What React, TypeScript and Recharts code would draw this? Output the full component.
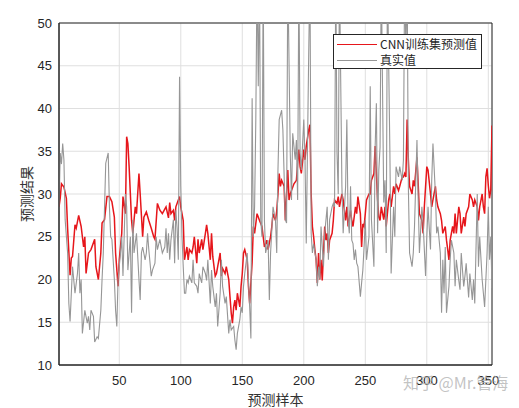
import React from 'react';
import { LineChart, Line, XAxis, YAxis, CartesianGrid, ReferenceArea } from 'recharts';

const predX = [1,2,3,5,7,8,10,11,12,14,15,17,19,21,22,23,25,27,30,31,33,35,36,38,40,42,44,46,47,49,50,52,53,55,56,57,58,60,61,63,64,66,67,69,70,72,74,76,78,79,81,83,85,88,90,91,92,94,95,96,98,99,100,102,103,105,106,107,109,110,111,113,114,115,117,118,120,121,122,124,125,126,128,129,130,132,133,134,136,137,139,140,141,142,143,144,145,146,148,149,150,151,152,154,155,156,158,159,160,162,163,164,166,167,168,170,171,173,174,175,177,178,179,180,181,182,184,185,187,188,189,190,192,194,195,196,197,198,200,201,202,204,205,206,207,208,209,210,211,212,213,214,215,217,218,219,220,221,223,224,225,227,228,229,231,232,234,235,236,238,239,240,242,243,244,246,247,248,249,250,251,253,254,255,257,258,259,260,261,262,263,265,266,267,269,270,271,273,274,275,277,278,280,281,282,283,284,285,286,288,289,290,292,293,294,296,297,298,300,301,303,304,305,307,308,309,311,312,313,315,316,317,318,319,321,322,323,324,326,327,328,330,331,332,334,335,337,338,339,341,342,343,345,346,347,348,349,350,351,352,353];
const predY = [28.5,29.5,31.2,30.8,29.5,26,20.5,22.5,22.7,26.4,26,27.5,26.2,23.8,25,20.7,23.1,23.5,24.7,21.5,20,23.1,26.6,27,29.7,29.7,29.1,27.3,23.1,19.2,22.3,25.4,29.7,27.7,36.7,35.9,33.2,26.9,25.4,28.5,27.7,32.4,30,25,27.3,27.9,26.9,26,25,24.7,28.9,28.1,27.7,28.5,27.2,29,27.7,28.1,26.9,28.5,29.3,29.7,28.5,26.9,22.3,23.8,22.3,23.5,23.1,23.8,25,21.9,24.7,23.1,24.7,23.5,25.4,26.4,25.4,22.3,25.4,22.7,20.4,20.7,21.5,23.1,20.4,21.3,20.7,21.5,20,18,16.1,14.9,16.8,17.6,16.4,18.4,16.8,19.2,20.7,23.1,23.5,22.3,19.2,17.2,22,26.2,25.4,27.7,27.3,26.9,26.2,25,23.8,24.6,23.5,25,26.2,27.7,26.9,28,30,32.4,30.9,31.6,30.9,26.9,32.8,29.3,30,30.4,31.2,31.6,33.6,35.2,33.2,32.4,35.2,34,35.6,37.5,38.1,30,26.2,25,23.5,22.3,19.6,23.1,20,22.3,19.9,26.2,24.6,25.4,23.1,24.6,25.4,26.9,29.3,28.9,29.7,28.5,30,29.3,26.9,28.5,26.2,28.1,26.9,26.2,28.5,27.7,29.7,27.7,23.8,26.5,26.2,27.7,29.3,30,30,31.6,32.4,35.6,32.4,29.3,27.3,26.9,28.5,27,28.5,26.2,29.3,30,28.5,30.9,30,31.2,30.4,30.9,32,32,32.4,32,38.7,34,30.9,30,31.6,30.9,34.3,31.2,27.7,26.9,25.4,28.5,33.2,32.8,30,28.5,29.3,30.9,29.3,28.5,27.7,26.9,25.4,26.2,24.6,23.5,22.3,24.6,26.2,25.4,27.7,25.4,28.5,27.7,25.4,27.3,26.2,27.7,28.5,30,29.3,28.5,29.3,28.5,26.9,28.5,30,28.5,27.7,32,33,31,29.5,30.5,38];

const trueX = [1,2,3,4,5,6,8,9,10,12,14,16,17,18,19,20,22,24,25,26,27,29,30,32,33,35,36,37,39,41,42,43,44,46,47,48,49,51,52,53,55,56,57,59,60,61,62,64,66,67,68,69,71,72,73,74,76,77,79,80,81,83,85,87,88,89,90,91,92,94,95,96,97,98,99,100,101,102,103,104,105,106,107,109,110,111,113,114,115,117,118,120,121,122,124,125,126,128,129,130,132,133,134,136,137,139,140,141,143,144,145,146,148,149,150,151,152,154,155,156,157,158,159,160,161,162,163,164,165,166,167,168,169,171,172,173,174,175,177,178,179,180,182,183,185,186,187,189,190,191,193,194,195,196,197,198,200,201,202,204,205,206,207,208,210,211,212,213,214,216,217,219,220,221,223,224,225,226,227,228,229,231,232,234,235,236,237,238,239,240,241,242,243,244,246,247,248,249,250,251,253,254,255,257,258,259,260,261,262,263,265,266,267,268,270,271,273,274,275,277,278,280,281,282,283,284,285,286,288,289,290,292,293,294,296,297,299,300,301,303,304,305,307,308,309,311,312,313,314,315,316,318,319,320,322,323,324,326,327,328,330,331,332,334,335,337,338,339,341,342,343,345,346,347,349,350,351,352,353];
const trueY = [28,34.8,33.5,35.9,34,27,23.1,17.2,15.1,21.5,18.4,20.7,23.1,18.4,20,13.7,16.4,14.9,15.7,14.1,16.4,15.7,12.7,13.3,13.1,16.4,20,23.1,33.6,34.8,28.5,25,24.7,20,16.4,14.5,20,23.1,25,20.4,30,28.5,21.1,25,16.1,27,23.1,25.4,20,17.6,23.1,23.8,22.3,23.1,25.4,23.5,20.4,21.1,21.9,25,23.5,24.7,23.1,23.8,26,23.1,25.4,22.3,24.6,27,21.9,28.1,26,22.3,43.7,30.9,25,21.5,18.4,18.4,20,19.6,20.4,19.6,22.3,19.6,19.2,18.4,20.7,19.6,21.5,20.7,19.9,22.3,17.2,21.1,19.2,16.8,18.4,14.5,18.4,22.3,19.2,17.2,18,13.7,15.3,14.1,14.5,12.9,11.8,13.7,15.3,16.8,16.1,19.2,20.7,23.1,20,16.8,13.1,41.2,25,28.5,38.7,56,42.6,56,26.9,25,56,26.9,23.1,24.6,17.6,23.1,25.8,28.5,26.9,23.1,32.8,38.7,39.8,37.5,27,26.6,56,34.8,29.3,37.1,34,36.3,29.3,56,34.8,32.8,38.7,34,24.2,46.5,56,25.4,23.1,24.2,22.3,19.2,21.5,20,26.2,21.5,25.4,28.5,22.3,27,28.5,28.9,28.5,56,34.8,30,56,30.9,25.4,30.9,38.7,27,25.4,30.9,24.6,24.2,22.3,23.5,21.9,21.5,18,19.6,21.1,23.8,27,22.3,25,42.6,27,21.5,35.5,40.6,25.4,32.8,35.5,56,29,31.6,23.1,56,34.8,20.7,28.5,25,33.2,32,33.2,31.6,34,56,46.5,56,30.9,23.1,21.5,23.1,26.2,36.3,29.3,23.1,28.5,26.6,20.4,25,28.5,23.5,31.6,35.9,30,25.4,26.2,23.1,16.1,22.3,18.4,23.8,16.1,19.2,22.3,24.6,23.1,19.2,22.3,19.9,18.8,23.1,19.2,20.4,21.9,17.9,20.7,17.6,20,17.2,30,21.5,25,20,18.4,16.8,23.1,28.5,22.3,25,19];

const xTicks = [50, 100, 150, 200, 250, 300, 350];
const yTicks = [10, 15, 20, 25, 30, 35, 40, 45, 50];
const seriesNames = ['CNN训练集预测值', '真实值'];
const xLabel = '预测样本';
const yLabel = '预测结果';
const watermark = '知乎 @Mr.管海';

const predData = predX.map((x, i) => ({ x, y: predY[i] }));
const trueData = trueX.map((x, i) => ({ x, y: trueY[i] }));

const RED = '#e6161b';
const GRAY = '#969696';
const TXT = '#262626';
const latin = '"Liberation Sans", Arial, Helvetica, sans-serif';
const cjk = '"Noto Sans CJK SC", "Liberation Sans", sans-serif';

export default function App() {
  return (
    <div style={{ position: 'absolute', left: 0, top: 0, width: 519, height: 408, background: '#fff' }}>
      <LineChart width={519} height={408} margin={{ top: 23, right: 27, bottom: 0, left: 0 }}>
        <CartesianGrid stroke="#dfdfdf" strokeWidth={1} />
        <XAxis
          type="number"
          dataKey="x"
          domain={[1, 353]}
          ticks={xTicks}
          allowDataOverflow
          height={43}
          tickLine={false}
          tickSize={6}
          tickMargin={5}
          axisLine={{ stroke: TXT }}
          tick={{ fill: TXT, fontSize: 13, fontFamily: latin }}
          label={(props: any) => {
            const vb = props.viewBox;
            return (
              <text x={vb.x + vb.width / 2} y={vb.y + 34} textAnchor="middle" dominantBaseline="central"
                fontSize={14} fill="#333" fontFamily={cjk}>{xLabel}</text>
            );
          }}
        />
        <YAxis
          type="number"
          dataKey="y"
          domain={[10, 50]}
          ticks={yTicks}
          allowDataOverflow
          width={59}
          tickLine={false}
          tickSize={3}
          tickMargin={4}
          axisLine={{ stroke: TXT }}
          tick={{ fill: TXT, fontSize: 13, fontFamily: latin }}
          label={(props: any) => {
            const vb = props.viewBox;
            const cx = vb.x + 26;
            const cy = vb.y + vb.height / 2;
            return (
              <text x={cx} y={cy} transform={`rotate(-90, ${cx}, ${cy})`} textAnchor="middle" dominantBaseline="central"
                fontSize={14} fill="#333" fontFamily={cjk}>{yLabel}</text>
            );
          }}
        />
        <ReferenceArea x1={1} x2={353} y1={10} y2={50} fill="none" stroke={TXT} strokeWidth={1} fillOpacity={0} />
        <Line data={predData} dataKey="y" name={seriesNames[0]} stroke={RED} strokeWidth={1.5} dot={false} isAnimationActive={false} type="linear" />
        <Line data={trueData} dataKey="y" name={seriesNames[1]} stroke={GRAY} strokeWidth={1.1} dot={false} isAnimationActive={false} type="linear" />
      </LineChart>
      <div style={{ position: 'absolute', left: 333, top: 34, width: 149, height: 35, boxSizing: 'border-box', border: `1px solid ${TXT}`, background: '#fff', paddingTop: 1 }}>
        {[RED, GRAY].map((c, i) => (
          <div key={i} style={{ display: 'flex', alignItems: 'center', height: 16 }}>
            <div style={{ marginLeft: 3, width: 40, height: 0, borderTop: `${i === 0 ? 1.5 : 1}px solid ${c}` }} />
            <span style={{ marginLeft: 3, fontSize: 12, lineHeight: '16px', color: TXT, fontFamily: cjk, whiteSpace: 'nowrap' }}>{seriesNames[i]}</span>
          </div>
        ))}
      </div>
      <div style={{ position: 'absolute', left: 403, top: 370, fontSize: 16, color: 'rgba(175,175,175,0.75)', fontFamily: cjk, whiteSpace: 'nowrap' }}>{watermark}</div>
    </div>
  );
}
